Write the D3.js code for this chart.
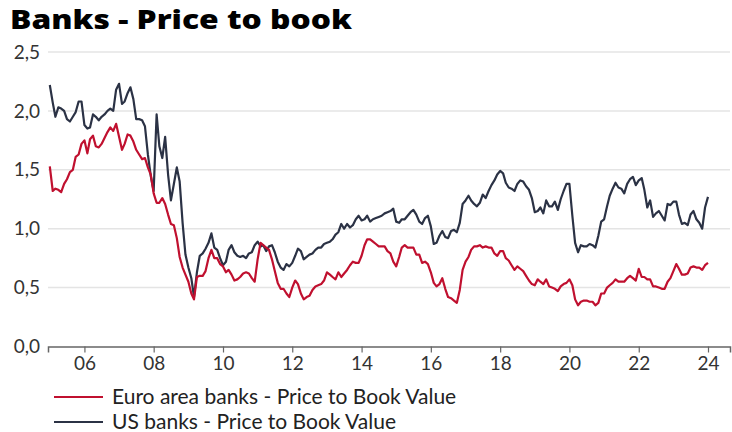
<!DOCTYPE html>
<html>
<head>
<meta charset="utf-8">
<script src="https://cdn.jsdelivr.net/npm/d3@7"></script>
<style>
  body { margin: 0; background: #fff; }
  svg { display: block; }
</style>
</head>
<body>
<div id="chart"></div>
<script>
// monthly data, Jan 2005 - Jan 2024
const startYear = 2005;
const euroBanks = [
  1.53,1.32,1.34,1.33,1.31,1.38,1.42,1.48,1.50,1.61,1.63,1.72,
  1.75,1.64,1.76,1.79,1.70,1.69,1.72,1.77,1.82,1.86,1.83,1.89,
  1.78,1.67,1.72,1.80,1.79,1.74,1.67,1.63,1.59,1.60,1.52,1.46,
  1.30,1.22,1.22,1.26,1.21,1.12,1.04,1.03,0.92,0.76,0.67,0.61,
  0.55,0.45,0.40,0.59,0.60,0.60,0.64,0.75,0.82,0.75,0.75,0.70,
  0.68,0.63,0.65,0.61,0.56,0.57,0.59,0.62,0.63,0.62,0.58,0.55,
  0.74,0.88,0.86,0.84,0.82,0.74,0.64,0.54,0.49,0.49,0.45,0.42,
  0.50,0.56,0.53,0.45,0.40,0.42,0.43,0.48,0.51,0.52,0.53,0.56,
  0.63,0.61,0.59,0.57,0.63,0.59,0.62,0.65,0.69,0.72,0.71,0.71,
  0.77,0.86,0.91,0.91,0.89,0.87,0.85,0.85,0.85,0.81,0.79,0.72,
  0.68,0.76,0.84,0.86,0.84,0.84,0.84,0.78,0.78,0.71,0.72,0.70,
  0.63,0.54,0.51,0.53,0.58,0.49,0.42,0.41,0.39,0.37,0.48,0.65,
  0.72,0.76,0.82,0.85,0.85,0.86,0.84,0.85,0.84,0.84,0.79,0.77,
  0.81,0.81,0.75,0.73,0.69,0.65,0.68,0.66,0.64,0.60,0.56,0.53,
  0.52,0.57,0.55,0.53,0.57,0.51,0.50,0.49,0.47,0.51,0.53,0.54,
  0.57,0.52,0.40,0.35,0.38,0.39,0.39,0.38,0.38,0.35,0.37,0.45,
  0.45,0.50,0.52,0.54,0.57,0.55,0.55,0.55,0.58,0.60,0.58,0.56,
  0.66,0.59,0.59,0.57,0.57,0.51,0.51,0.50,0.49,0.49,0.55,0.58,
  0.64,0.70,0.66,0.61,0.61,0.62,0.67,0.68,0.67,0.67,0.65,0.69,
  0.71
];
const usBanks = [
  2.22,2.07,1.95,2.03,2.02,2.00,1.93,1.91,1.95,1.99,2.08,2.08,
  1.88,1.85,1.86,1.97,1.95,1.92,1.95,1.97,2.00,2.02,2.00,2.18,
  2.23,2.06,2.08,2.15,2.20,2.10,1.93,1.93,1.92,1.87,1.63,1.45,
  1.32,1.97,1.70,1.60,1.78,1.46,1.24,1.38,1.52,1.40,1.05,0.78,
  0.67,0.58,0.42,0.63,0.77,0.79,0.83,0.88,0.96,0.84,0.82,0.75,
  0.69,0.72,0.82,0.86,0.80,0.77,0.76,0.77,0.75,0.79,0.80,0.86,
  0.89,0.85,0.86,0.81,0.85,0.86,0.80,0.72,0.67,0.65,0.70,0.68,
  0.71,0.77,0.83,0.81,0.74,0.76,0.78,0.79,0.82,0.84,0.84,0.87,
  0.88,0.89,0.91,0.95,0.97,1.04,1.00,1.04,1.01,1.03,1.08,1.11,
  1.07,1.08,1.11,1.06,1.08,1.09,1.10,1.11,1.13,1.14,1.15,1.17,
  1.06,1.05,1.08,1.08,1.11,1.14,1.16,1.12,1.06,1.04,1.09,1.11,
  1.02,0.87,0.88,0.94,0.98,0.93,0.92,0.98,0.99,0.97,1.05,1.21,
  1.24,1.28,1.24,1.21,1.19,1.22,1.29,1.26,1.32,1.37,1.41,1.46,
  1.49,1.47,1.39,1.35,1.34,1.32,1.38,1.41,1.40,1.36,1.33,1.26,
  1.14,1.15,1.18,1.13,1.24,1.19,1.19,1.23,1.16,1.25,1.32,1.38,
  1.38,1.11,0.88,0.80,0.86,0.85,0.85,0.87,0.86,0.84,0.94,1.06,
  1.08,1.19,1.28,1.34,1.39,1.35,1.34,1.30,1.38,1.42,1.44,1.37,
  1.41,1.43,1.33,1.18,1.24,1.10,1.13,1.15,1.11,1.07,1.21,1.20,
  1.23,1.23,1.12,1.04,1.05,1.03,1.12,1.15,1.08,1.05,1.00,1.18,
  1.27
];
const yTicks = [0, 0.5, 1, 1.5, 2, 2.5];
const xTickYears = [2006, 2008, 2010, 2012, 2014, 2016, 2018, 2020, 2022, 2024];
const seriesNames = ["Euro area banks - Price to Book Value", "US banks - Price to Book Value"];
const seriesColors = ["#c0102f", "#2b3245"];

const width = 732, height = 432;
const font = "Lato, 'Open Sans', sans-serif";

const svg = d3.select("#chart").append("svg")
  .attr("width", width)
  .attr("height", height);

const dates = euroBanks.map((d, i) => new Date(startYear, i, 1));

const x = d3.scaleTime()
  .domain([new Date(2004, 11, 13), new Date(2024, 7, 20)])
  .range([48, 730]);

const y = d3.scaleLinear()
  .domain([0, 2.5])
  .range([346.5, 52]);

svg.append("text")
  .attr("x", 10)
  .attr("y", 29)
  .style("font-family", "'Open Sans', sans-serif")
  .style("font-weight", 800)
  .style("font-size", "26px")
  .attr("fill", "#000")
  .attr("textLength", 342)
  .attr("lengthAdjust", "spacingAndGlyphs")
  .text("Banks - Price to book");

// gridlines
svg.append("g")
  .selectAll("line")
  .data(yTicks.filter(d => d > 0))
  .join("line")
  .attr("x1", 48)
  .attr("x2", 730)
  .attr("y1", d => y(d))
  .attr("y2", d => y(d))
  .attr("stroke", "#e4e4e4")
  .attr("stroke-width", 1.5);

// y labels
svg.append("g")
  .selectAll("text")
  .data(yTicks)
  .join("text")
  .attr("x", 40)
  .attr("y", d => y(d))
  .attr("dy", "0.35em")
  .attr("text-anchor", "end")
  .style("font-family", font)
  .style("font-size", "19px")
  .attr("fill", "#333")
  .text(d => d3.format(".1f")(d).replace(".", ","));

// x axis
const xAxis = d3.axisBottom(x)
  .tickValues(xTickYears.map(yr => new Date(yr, 0, 1)))
  .tickFormat(d3.timeFormat("%y"))
  .tickSize(6)
  .tickPadding(4);

const gx = svg.append("g")
  .attr("transform", `translate(0,${y(0)})`)
  .call(xAxis);
gx.select(".domain").attr("stroke", "#666").attr("stroke-width", 1.5);
gx.selectAll(".tick line").attr("stroke", "#666").attr("stroke-width", 1.2);
gx.selectAll("text")
  .style("font-family", font)
  .style("font-size", "19px")
  .attr("fill", "#333");

const line = d3.line()
  .x((d, i) => x(dates[i]))
  .y(d => y(d));

svg.append("path")
  .datum(usBanks)
  .attr("fill", "none")
  .attr("stroke", seriesColors[1])
  .attr("stroke-width", 2.2)
  .attr("stroke-linejoin", "round")
  .attr("d", line);

svg.append("path")
  .datum(euroBanks)
  .attr("fill", "none")
  .attr("stroke", seriesColors[0])
  .attr("stroke-width", 2.2)
  .attr("stroke-linejoin", "round")
  .attr("d", line);

// legend
const legend = svg.append("g")
  .selectAll("g")
  .data(seriesNames)
  .join("g")
  .attr("transform", (d, i) => `translate(54, ${397 + i * 25})`);

legend.append("line")
  .attr("x1", 0)
  .attr("x2", 49)
  .attr("stroke", (d, i) => seriesColors[i])
  .attr("stroke-width", 2.2);

legend.append("text")
  .attr("x", 58)
  .attr("dy", "0.35em")
  .style("font-family", font)
  .style("font-size", "21px")
  .attr("fill", "#222")
  .text(d => d);
</script>
</body>
</html>
